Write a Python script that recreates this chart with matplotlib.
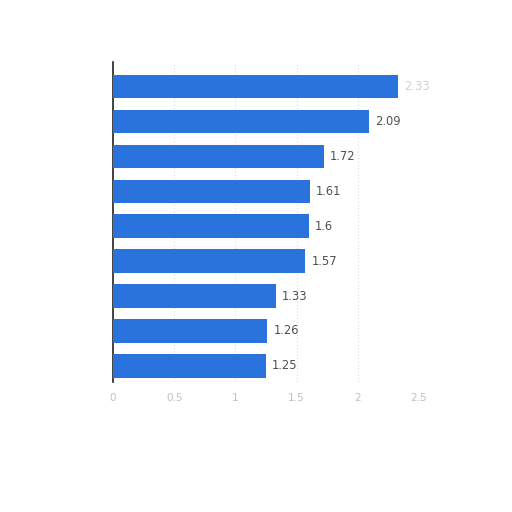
import matplotlib
matplotlib.use("Agg")
import matplotlib.pyplot as plt
import numpy as np

values = [2.33, 2.09, 1.72, 1.61, 1.6, 1.57, 1.33, 1.26, 1.25]
labels = ["2.33", "2.09", "1.72", "1.61", "1.6", "1.57", "1.33", "1.26", "1.25"]
xticks = [0, 0.5, 1, 1.5, 2, 2.5]
xtick_labels = ["0", "0.5", "1", "1.5", "2", "2.5"]

fig = plt.figure(figsize=(5.12, 5.12), dpi=100)
ax = fig.add_axes([113/512, 1-382/512, (419-113)/512, (382-62)/512])

y = np.arange(len(values))
ax.barh(y, values, height=0.67, color="#2a72dc", zorder=3)
for i, (v, lab) in enumerate(zip(values, labels)):
    col = "#d0d0d0" if i == 0 else "#505050"
    ax.text(v + 0.05, i, lab, va="center", ha="left", fontsize=8.3,
            color=col, fontweight="medium")

ax.set_xlim(0, 2.5)
ax.set_ylim(8.46, -0.70)
ax.set_xticks(xticks)
ax.set_xticklabels(xtick_labels, color="#c0c0c0", fontsize=7.5)
ax.set_yticks([])
ax.tick_params(axis="x", length=0, pad=8)
ax.grid(axis="x", color="#dddddd", linestyle=(0, (1, 2)), linewidth=0.8, zorder=0)
for s in ["top", "right", "bottom"]:
    ax.spines[s].set_visible(False)
ax.spines["left"].set_color("#222222")
ax.spines["left"].set_linewidth(1.2)

fig.savefig("out.png", dpi=100)
